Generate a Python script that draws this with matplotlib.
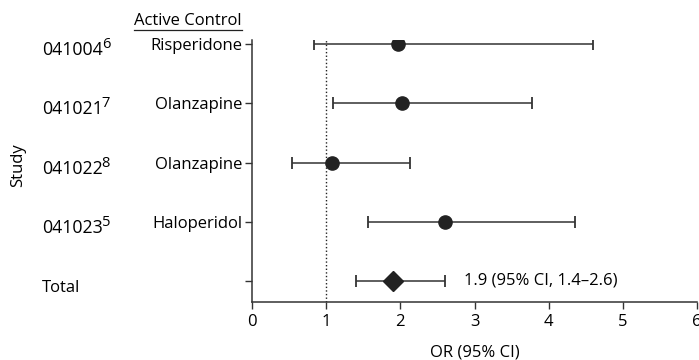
import matplotlib
matplotlib.use("Agg")
import matplotlib.pyplot as plt
from matplotlib.lines import Line2D
from matplotlib.transforms import blended_transform_factory

plt.rcParams['font.family'] = ['Open Sans', 'DejaVu Sans']

studies = ["041004", "041021", "041022", "041023", "Total"]
refs = ["6", "7", "8", "5", ""]
controls = ["Risperidone", "Olanzapine", "Olanzapine", "Haloperidol", ""]
odds = [1.97, 2.02, 1.08, 2.60, 1.9]
ci_low = [0.84, 1.09, 0.54, 1.56, 1.4]
ci_high = [4.60, 3.77, 2.13, 4.35, 2.6]
xticks = [0, 1, 2, 3, 4, 5, 6]

W, H = 699, 360
FS = 12
fig = plt.figure(figsize=(W / 100, H / 100), dpi=100)
ax = fig.add_axes([252 / W, 1 - 302 / H, 445 / W, 262 / H])

n = len(studies)
ypos = list(range(n, 0, -1))
ink = "#222222"

for i in range(n):
    is_total = studies[i] == "Total"
    ax.errorbar([odds[i]], [ypos[i]],
                xerr=[[odds[i] - ci_low[i]], [ci_high[i] - odds[i]]],
                fmt="D" if is_total else "o",
                ms=10 if is_total else 9.5,
                color=ink, ecolor="#333333", elinewidth=1.1,
                capsize=4.5, capthick=1.3, zorder=3)

ax.axvline(1, color=ink, lw=1, ls=(0, (1, 1.6)), zorder=1)

ax.set_xlim(0, 6)
ax.set_ylim(0.645, 5.07)
ax.set_xticks(xticks)
ax.set_xticklabels([str(t) for t in xticks], fontsize=FS)
ax.set_yticks(ypos)
ax.set_yticklabels(controls, fontsize=FS)
ax.tick_params(axis="both", length=5, width=1, color="#333333", pad=2)
ax.tick_params(axis="x", pad=4)
for s in ("top", "right"):
    ax.spines[s].set_visible(False)
for s in ("left", "bottom"):
    ax.spines[s].set_linewidth(1.1)
    ax.spines[s].set_color("#333333")

ax.set_xlabel("OR (95% CI)", fontsize=FS, labelpad=10)

# study identifiers (baseline a little below each row) with superscript refs
row_tf = blended_transform_factory(fig.transFigure, ax.transData)
id_texts = []
for i in range(n):
    t = ax.annotate(studies[i], xy=(42 / W, ypos[i]), xycoords=row_tf,
                    xytext=(0, -11), textcoords="offset pixels",
                    fontsize=FS if studies[i] == "Total" else 12.8,
                    va="baseline", ha="left")
    id_texts.append(t)

fig.text(18 / W, 1 - 165 / H, "Study", rotation=90, fontsize=FS,
         ha="center", va="center")

# column header
hdr = fig.text(242 / W, 1 - 21 / H, "Active Control", fontsize=FS,
               ha="right", va="center")

ax.annotate(f"{odds[-1]:.1f} (95% CI, {ci_low[-1]:.1f}\u2013{ci_high[-1]:.1f})",
            xy=(ci_high[-1], ypos[-1]), xytext=(14, 0),
            textcoords="offset points", fontsize=FS, va="center", ha="left")

fig.canvas.draw()
for t, r, y in zip(id_texts, refs, ypos):
    if r:
        bb = t.get_window_extent()
        ax.annotate(r, xy=(bb.x1 / W, y), xycoords=row_tf,
                    xytext=(-1, -4), textcoords="offset pixels",
                    fontsize=10.5, va="baseline", ha="left")

bb = hdr.get_window_extent()
uy = (bb.y0 - 0.5) / H
fig.add_artist(Line2D([bb.x0 / W, bb.x1 / W], [uy, uy],
                      transform=fig.transFigure, color=ink, lw=0.9))

fig.savefig("out.png", dpi=100)
